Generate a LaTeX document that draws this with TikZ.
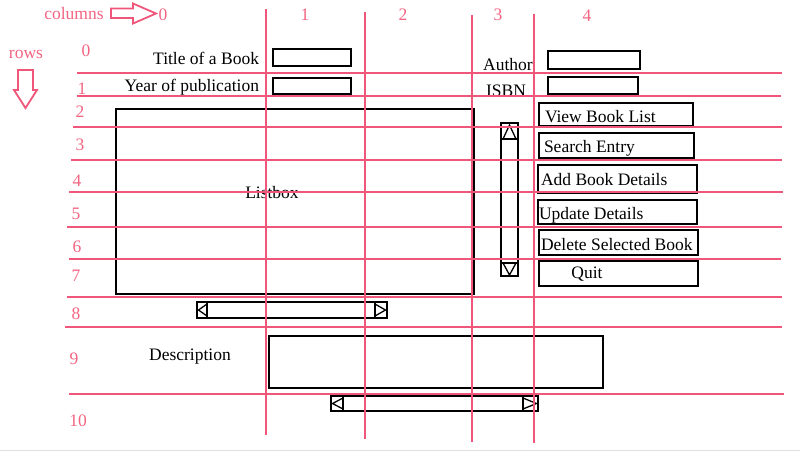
\documentclass[tikz,border=0pt]{standalone}
\usepackage{fontspec}
\setmainfont{Liberation Serif}
\definecolor{gridpink}{RGB}{240,86,122}
\definecolor{labpink}{RGB}{242,100,130}
\begin{document}
\begin{tikzpicture}[x=1pt,y=-1pt,
  every node/.style={font=\fontsize{17.5}{21}\selectfont, inner sep=0pt, outer sep=0pt},
  txt/.style={yshift=-2pt},
  gridline/.style={draw=gridpink, line width=2pt},
  pinklab/.style={txt, text=labpink},
  wbox/.style={draw=black, line width=2.2pt, anchor=north west, minimum width=#1, inner sep=0pt},
  sbarline/.style={draw=black, line width=1.3pt},
  blockarrow/.style={draw=gridpink, line width=1.8pt, line join=miter}
]
\useasboundingbox (0,0) rectangle (800,451);
\draw[gray!25, line width=1pt] (0,450) -- (800,450);

% header labels
\node[pinklab] (colslab) at (74,12) {columns};
\node[pinklab] (rowslab) at (26,52) {rows};
\draw[blockarrow] (111,8.5) -- (133,8.5) -- (133,3.5) -- (156,13.5) -- (133,23.5) -- (133,18) -- (111,18) -- cycle;
\draw[blockarrow] (18,70) -- (33,70) -- (33,90) -- (37,90) -- (25.5,108) -- (14,90) -- (18,90) -- cycle;

% column numbers
\node[pinklab] (c0) at (163,13) {0};
\node[pinklab] (c1) at (305,13) {1};
\node[pinklab] (c2) at (403,13) {2};
\node[pinklab] (c3) at (498,13) {3};
\node[pinklab] (c4) at (587,14) {4};

% row numbers
\node[pinklab] (r0) at (86,49) {0};
\node[pinklab] (r1) at (82,87) {1};
\node[pinklab] (r2) at (80,110) {2};
\node[pinklab] (r3) at (80,143) {3};
\node[pinklab] (r4) at (77,179) {4};
\node[pinklab] (r5) at (76,212) {5};
\node[pinklab] (r6) at (77,245) {6};
\node[pinklab] (r7) at (76,274) {7};
\node[pinklab] (r8) at (76,312) {8};
\node[pinklab] (r9) at (74,357) {9};
\node[pinklab] (r10) at (78,419) {10};

% labels
\node[txt, anchor=east] (ttl) at (259,56) {Title of a Book};
\node[txt, anchor=east] (yr) at (259,85) {Year of publication};
\node[txt] (auth) at (508,63) {Author};
\node[txt] (isbn) at (506,89) {ISBN};
\node[txt] (desclab) at (190,355) {Description};

% entry boxes
\node[wbox=78pt, minimum height=17pt] (titlebox) at (273,49) {};
\node[wbox=78pt, minimum height=16pt] (yearbox) at (273,78) {};
\node[wbox=92pt, minimum height=18pt] (authbox) at (548,51) {};
\node[wbox=90pt, minimum height=17pt] (isbnbox) at (548,77) {};

% buttons
\node[wbox=154pt, minimum height=23pt] (vb) at (539,103) {};
\node[txt, anchor=west] (vbt) at (545,115) {View Book List};
\node[wbox=155pt, minimum height=25pt] (se) at (539,133) {};
\node[txt, anchor=west] (set) at (544,146) {Search Entry};
\node[wbox=159pt, minimum height=28pt] (ab) at (538,165) {};
\node[txt, anchor=west] (abt) at (541,178) {Add Book Details};
\node[wbox=159pt, minimum height=24pt] (ud) at (538,200) {};
\node[txt, anchor=west] (udt) at (539,213) {Update Details};
\node[wbox=159pt, minimum height=25pt] (del) at (539,230) {};
\node[txt, anchor=west] (delt) at (541,243) {Delete Selected Book};
\node[wbox=159pt, minimum height=25pt] (quit) at (539,261) {};
\node[txt] (quitt) at (587,272) {Quit};

% listbox
\node[wbox=358pt, minimum height=185pt] (listbox) at (116,109) {};
\node[txt] (listt) at (272,191) {Listbox};

% vertical scrollbar
\node[wbox=17pt, minimum height=153pt] (vscroll) at (501,123) {};
\draw[sbarline] (501,139) -- (518,139);
\draw[sbarline] (503,139) -- (509.5,125) -- (516,139);
\draw[sbarline] (501,263) -- (518,263);
\draw[sbarline] (503,263) -- (509.5,275) -- (516,263);

% horizontal scrollbar 1
\node[wbox=190pt, minimum height=16pt] (hs1) at (197,302) {};
\draw[sbarline] (207,302) -- (207,318);
\draw[sbarline] (207,304) -- (198.5,310) -- (207,316);
\draw[sbarline] (375,302) -- (375,318);
\draw[sbarline] (375,304) -- (385.5,310) -- (375,316);

% description box
\node[wbox=334pt, minimum height=52pt] (descbox) at (269,336) {};

% horizontal scrollbar 2
\node[wbox=207pt, minimum height=15pt] (hs2) at (331,396) {};
\draw[sbarline] (343,396) -- (343,411);
\draw[sbarline] (343,398) -- (332.5,403.5) -- (343,409);
\draw[sbarline] (523,396) -- (523,411);
\draw[sbarline] (523,398) -- (536.5,403.5) -- (523,409);

% grid lines
\draw[gridline] (77,72.5) -- (782,72.5);
\draw[gridline] (77,96) -- (781,96);
\draw[gridline] (73,127) -- (782,127);
\draw[gridline] (71,159.5) -- (782,159.5);
\draw[gridline] (69,192) -- (783,192);
\draw[gridline] (67,226.5) -- (782,226.5);
\draw[gridline] (69,259) -- (781,259);
\draw[gridline] (67,296.5) -- (782,296.5);
\draw[gridline] (65,326.5) -- (782,326.5);
\draw[gridline] (69,394) -- (784,394);

\draw[gridline] (266,9) -- (266,435);
\draw[gridline] (365,12) -- (365,439);
\draw[gridline] (472,15) -- (472,442);
\draw[gridline] (534,14) -- (534,443);
\end{tikzpicture}
\end{document}
